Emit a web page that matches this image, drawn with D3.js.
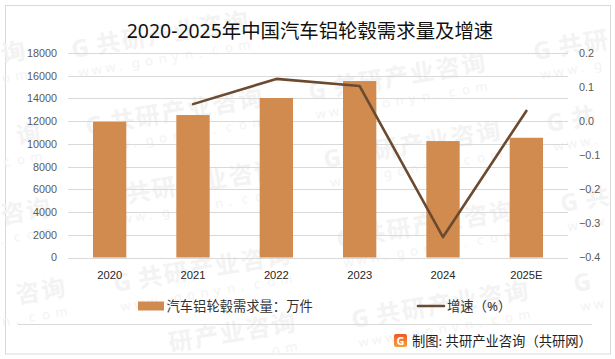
<!DOCTYPE html>
<html>
<head>
<meta charset="utf-8">
<script src="https://cdn.jsdelivr.net/npm/d3@7"></script>
<style>
  html, body { margin: 0; padding: 0; background: #fff; }
  svg { display: block; font-family: "Noto Sans", "Noto Sans CJK SC", sans-serif; }
</style>
</head>
<body>
<script>
const years = ["2020", "2021", "2022", "2023", "2024", "2025E"];
const demand = [11950, 12540, 14040, 15530, 10250, 10540];
const growth = [null, 0.05, 0.124, 0.103, -0.34, 0.03];
const leftTicks = [0, 2000, 4000, 6000, 8000, 10000, 12000, 14000, 16000, 18000];
const rightTicks = [-0.4, -0.3, -0.2, -0.1, 0, 0.1, 0.2];
const titleText = "2020-2025年中国汽车铝轮毂需求量及增速";
const barLegend = "汽车铝轮毂需求量：万件";
const lineLegend = "增速（%）";
const sourceText = "制图: 共研产业咨询（共研网）";

const barColor = "#d18b4f", lineColor = "#6b4a2f", gridColor = "#d9d9d9", markColor = "#f3f3f3";

// plot area
const margin = { top: 53, right: 47, bottom: 101.5, left: 68 },
    W = 615, H = 359,
    width = W - margin.left - margin.right,
    height = H - margin.top - margin.bottom;

const svg = d3.select("body").append("svg").attr("width", W).attr("height", H);

// outer frame
svg.append("rect").attr("x", 5.5).attr("y", 5.5).attr("width", 605).attr("height", 348.5)
    .attr("fill", "#fff").attr("stroke", gridColor).attr("stroke-width", 1);

// watermark goes under everything else, left edge of each G
const marks = [
    [73, 58], [87, 135], [310, 100], [535, 60], [325, 168], [548, 132],
    [103, 207], [115, 292], [338, 248], [562, 212], [353, 328], [575, 292],
    [120, 360], [-150, 88], [-135, 170], [-125, 245], [-110, 325]
];
const wm = svg.append("g").attr("pointer-events", "none");
const tilt = -9.5 * Math.PI / 180;

// one glyph at a time, glyphs that would hang off the page are left out
function markGlyphs(x0, y0, chars, dx, dy, step, size, bold) {
    chars.forEach((c, i) => {
        const a = dx + i * step;
        const px = x0 + a * Math.cos(tilt) - dy * Math.sin(tilt);
        const py = y0 + a * Math.sin(tilt) + dy * Math.cos(tilt);
        if (px < 1 || px + size > W - 1 || py - size < 1 || py + 3 > H - 1) return;
        wm.append("text")
            .attr("transform", "translate(" + px + "," + py + ") rotate(-9.5)")
            .attr("font-size", size).attr("font-weight", bold ? 700 : 400)
            .attr("fill", markColor).text(c);
    });
}
marks.forEach(([x, y]) => {
    markGlyphs(x, y, ["G"], 0, 0, 0, 24, true);
    markGlyphs(x, y, Array.from("共研产业咨询"), 25, 0, 26, 24, true);
    markGlyphs(x, y, Array.from("www.gonyn.com"), 3, 20, 13.5, 13, false);
});

const plot = svg.append("g").attr("transform", "translate(" + margin.left + "," + margin.top + ")");

const x = d3.scaleBand().domain(years).range([0, width]).paddingInner(0.6).paddingOuter(0.3);
const y = d3.scaleLinear().domain([0, 18000]).range([height, 0]);
const y2 = d3.scaleLinear().domain([-0.4, 0.2]).range([height, 0]);

// gridlines
plot.selectAll(".grid").data(leftTicks).enter().append("line")
    .attr("x1", 0).attr("x2", width)
    .attr("y1", d => Math.round(y(d)) + 0.5).attr("y2", d => Math.round(y(d)) + 0.5)
    .attr("stroke", gridColor);

// left axis
const yAxis = plot.append("g")
    .call(d3.axisLeft(y).tickValues(leftTicks).tickSize(0).tickPadding(11).tickFormat(d3.format("d")));
yAxis.select(".domain").remove();
yAxis.selectAll("text").attr("font-size", 10.8).attr("fill", "#595959").style("font-family", "inherit");

// right axis
const y2Axis = plot.append("g").attr("transform", "translate(" + width + ",0)")
    .call(d3.axisRight(y2).tickValues(rightTicks).tickSize(0).tickPadding(11).tickFormat(d3.format(".1f")));
y2Axis.select(".domain").remove();
y2Axis.selectAll("text").attr("font-size", 10.8).attr("fill", "#595959").style("font-family", "inherit");

// x axis
const xAxis = plot.append("g").attr("transform", "translate(0," + height + ")")
    .call(d3.axisBottom(x).tickSize(0).tickPadding(13.5));
xAxis.select(".domain").remove();
xAxis.selectAll("text").attr("font-size", 11.2).attr("fill", "#262626").style("font-family", "inherit");

// bars
plot.selectAll(".bar").data(years).enter().append("rect")
    .attr("x", d => x(d))
    .attr("width", x.bandwidth())
    .attr("y", (d, i) => y(demand[i]))
    .attr("height", (d, i) => height - y(demand[i]))
    .attr("fill", barColor);

// growth line, no value for 2020
const line = d3.line()
    .defined(d => d[1] !== null)
    .x(d => x(d[0]) + x.bandwidth() / 2)
    .y(d => y2(d[1]));
plot.append("path").datum(d3.zip(years, growth)).attr("d", line)
    .attr("fill", "none").attr("stroke", lineColor).attr("stroke-width", 2.6)
    .attr("stroke-linecap", "round").attr("stroke-linejoin", "round");

// title
svg.append("text").attr("x", 310).attr("y", 38).attr("text-anchor", "middle")
    .attr("font-size", 19.4).attr("fill", "#111").text(titleText);

// legend
svg.append("rect").attr("x", 138).attr("y", 301.5).attr("width", 26).attr("height", 9).attr("fill", barColor);
svg.append("text").attr("x", 166.5).attr("y", 311).attr("font-size", 13.3).attr("fill", "#333").text(barLegend);
svg.append("line").attr("x1", 418).attr("x2", 444).attr("y1", 306).attr("y2", 306)
    .attr("stroke", lineColor).attr("stroke-width", 2.6).attr("stroke-linecap", "round");
svg.append("text").attr("x", 447).attr("y", 311).attr("font-size", 13.3).attr("fill", "#333").text(lineLegend);

// source strip
svg.append("line").attr("x1", 18).attr("x2", 592).attr("y1", 324.5).attr("y2", 324.5).attr("stroke", gridColor);
const grad = svg.append("defs").append("linearGradient").attr("id", "logoGrad")
    .attr("x1", 0).attr("x2", 0).attr("y1", 0).attr("y2", 1);
grad.append("stop").attr("offset", 0).attr("stop-color", "#f0562a");
grad.append("stop").attr("offset", 1).attr("stop-color", "#f7a234");
svg.append("rect").attr("x", 394).attr("y", 334).attr("width", 13).attr("height", 13).attr("rx", 2).attr("fill", "url(#logoGrad)");
svg.append("text").attr("x", 400.5).attr("y", 345).attr("text-anchor", "middle")
    .attr("font-size", 11).attr("font-weight", 700).attr("fill", "#fff").text("G");
svg.append("text").attr("x", 412).attr("y", 346).attr("font-size", 13.3).attr("fill", "#222").text(sourceText);
</script>
</body>
</html>
